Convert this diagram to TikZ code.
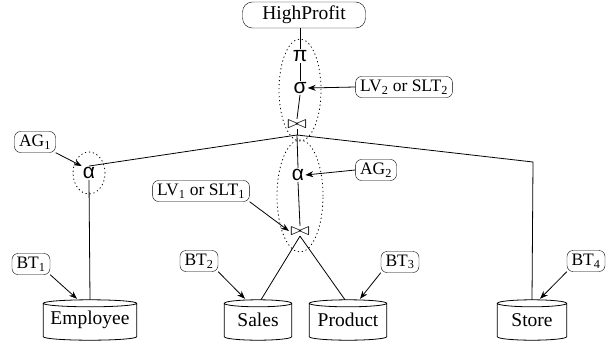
\documentclass[tikz,border=0pt]{standalone}
\usepackage{fontspec}
\setmainfont{Liberation Serif}
\newfontfamily\gkfont{Liberation Sans}
\usetikzlibrary{arrows.meta,calc}
\tikzset{
  lbl/.style={draw, rounded corners=6pt, inner xsep=4.5pt, inner ysep=2pt, minimum height=21pt, font=\fontsize{17.5}{19}\selectfont},
  op/.style={inner sep=1pt, font=\gkfont\fontsize{21}{23}\selectfont},
  jn/.style={inner sep=1pt, xscale=1.15, yscale=0.85, font=\fontsize{20}{22}\selectfont},
  tbl/.style={inner sep=0pt, minimum height=40pt, font=\fontsize{19.5}{22}\selectfont},
  arr/.style={-{Stealth[length=8pt,width=6pt]}, thick},
  ln/.style={thick},
  grp/.style={thick, dash pattern=on 1.2pt off 2.8pt}
}
\newcommand\cylinderpath[1]{%
  \draw[thick] let \p1=(#1.north west), \p2=(#1.south east), \n1={(\x2-\x1)/2} in
    (\x1,\y1-3.5pt) -- (\x1,\y2+3.5pt)
    arc[start angle=180,end angle=360,x radius=\n1,y radius=3.5pt]
    -- (\x2,\y1-3.5pt)
    arc[start angle=0,end angle=360,x radius=\n1,y radius=3.5pt];}
\begin{document}
\begin{tikzpicture}[x=1pt,y=-1pt]
\useasboundingbox (0,0) rectangle (615,348);
% operators
\node[lbl, minimum width=123pt, minimum height=26pt, rounded corners=10pt, font=\fontsize{19.5}{22}\selectfont] (hp) at (304,15) {HighProfit};
\node[op] (pi) at (300,56) {π};
\node[op] (sg) at (300,88) {σ};
\node[jn] (j1) at (297,124) {$\bowtie$};
\coordinate (jc) at (297,135);
\coordinate (sc) at (533,162);
\node[op] (a1) at (89,173) {α};
\node[op] (a2) at (298,175) {α};
\node[jn] (j2) at (300,231) {$\bowtie$};
% tables
\node[tbl, minimum width=93pt] (emp) at (90,320) {Employee};
\node[tbl, minimum width=67pt] (sales) at (258,320) {Sales};
\node[tbl, minimum width=77pt] (prod) at (348,320) {Product};
\node[tbl, minimum width=69pt] (store) at (532,320) {Store};
\cylinderpath{emp}
\cylinderpath{sales}
\cylinderpath{prod}
\cylinderpath{store}
% labels
\node[lbl] (lv2) at (404,87) {LV\textsubscript{2} or SLT\textsubscript{2}};
\node[lbl] (ag1) at (35,142) {AG\textsubscript{1}};
\node[lbl] (ag2) at (376,170) {AG\textsubscript{2}};
\node[lbl] (lv1) at (201,191) {LV\textsubscript{1} or SLT\textsubscript{1}};
\node[lbl] (bt1) at (31,264) {BT\textsubscript{1}};
\node[lbl] (bt2) at (199,261) {BT\textsubscript{2}};
\node[lbl] (bt3) at (400,262) {BT\textsubscript{3}};
\node[lbl] (bt4) at (586,261) {BT\textsubscript{4}};
% groups
\draw[grp] (300,90) ellipse [x radius=21pt, y radius=51pt];
\draw[grp] (300,196) ellipse [x radius=23pt, y radius=56pt];
\draw[grp] (89,173) ellipse [x radius=16pt, y radius=21pt];
% connectors
\draw[ln] (pi.north |- hp.south) -- (pi.north);
\draw[ln] (pi.south) -- (sg.north);
\draw[ln] (sg.south) -- (j1.north);
\draw[ln] (j1.south) -- (jc);
\draw[ln] (jc) -- (a1.north);
\draw[ln] (jc) -- (sc) -- (store.north);
\draw[ln] (jc) -- (a2.north);
\draw[ln] (a1.south) -- (emp.north);
\draw[ln] (a2.south) -- (j2.north);
\draw[ln] (j2.south) -- ([xshift=3pt]sales.north);
\draw[ln] (j2.south) -- ([xshift=-3pt]prod.north);
% arrows
\draw[arr] (lv2.west) -- (sg.east);
\draw[arr] (ag1.south east) -- (a1.north west);
\draw[arr] (ag2.west) -- (a2.east);
\draw[arr] (lv1.south east) -- (j2.west);
\draw[arr] (bt1.south east) -- ([xshift=-13pt,yshift=1pt]emp.north);
\draw[arr] (bt2.south east) -- ([xshift=-13pt,yshift=1pt]sales.north);
\draw[arr] (bt3.south west) -- ([xshift=12pt,yshift=1pt]prod.north);
\draw[arr] (bt4.south west) -- ([xshift=8pt,yshift=1pt]store.north);
\end{tikzpicture}
\end{document}
